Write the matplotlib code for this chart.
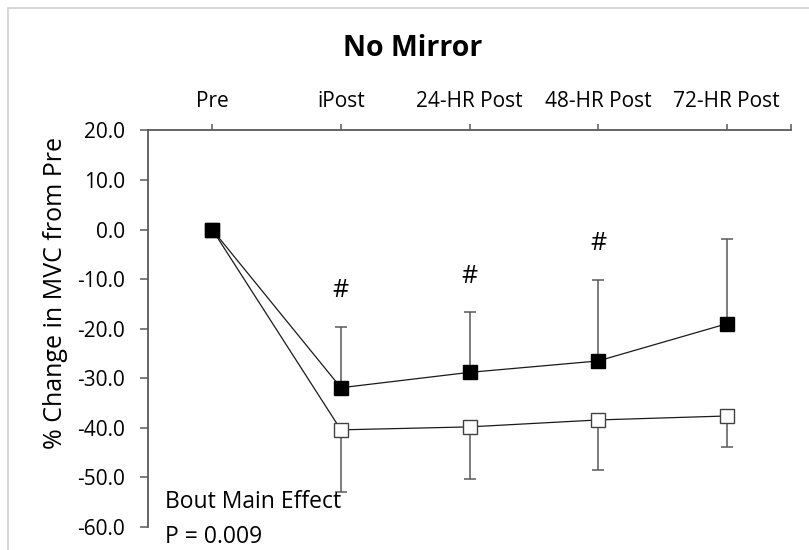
import matplotlib.pyplot as plt
from matplotlib.patches import Rectangle

plt.rcParams['font.family'] = ['Open Sans', 'DejaVu Sans']

timepoints = ['Pre', 'iPost', '24-HR Post', '48-HR Post', '72-HR Post']

# mean % change in MVC and SD for the two bouts
bout2_mean = [0.0, -31.9, -28.8, -26.5, -19.0]
bout2_sd = [0.0, 12.3, 12.1, 16.4, 17.1]
bout1_mean = [0.0, -40.4, -39.8, -38.4, -37.6]
bout1_sd = [0.0, 12.5, 10.5, 10.1, 6.3]

# timepoints flagged with #
flagged = [1, 2, 3]

W, H = 809, 550
fig = plt.figure(figsize=(W / 100, H / 100), dpi=100)
ax = fig.add_axes([148 / W, (H - 527) / H, (791 - 148) / W, (527 - 130.5) / H])

# light frame around the chart area
fig.patches.append(Rectangle((8 / W, -0.1), 1.2, (H - 8) / H + 0.1,
                             transform=fig.transFigure, fill=False,
                             edgecolor='#d0d0d0', linewidth=1.2))

x = list(range(len(timepoints)))
axis_col = '#595959'

ax.errorbar(x, bout1_mean, yerr=[bout1_sd, [0] * len(x)], fmt='none',
            ecolor=axis_col, elinewidth=1.1, capsize=4.3, capthick=1.1, zorder=2)
ax.errorbar(x, bout2_mean, yerr=[[0] * len(x), bout2_sd], fmt='none',
            ecolor=axis_col, elinewidth=1.1, capsize=4.3, capthick=1.1, zorder=2)

ax.plot(x, bout1_mean, color='#1a1a1a', linewidth=0.9, marker='s',
        markersize=9.5, markerfacecolor='white', markeredgecolor='#404040',
        markeredgewidth=1.0, zorder=3)
ax.plot(x, bout2_mean, color='#1a1a1a', linewidth=0.9, marker='s',
        markersize=9.5, markerfacecolor='black', markeredgecolor='black',
        markeredgewidth=1.0, zorder=4)

for i in flagged:
    ax.text(i, bout2_mean[i] + bout2_sd[i] + 7.3, '#', ha='center', va='center',
            fontsize=18)

ax.set_xlim(-0.5, 4.5)
ax.set_ylim(-60, 20)
ax.set_yticks(range(-60, 21, 10))
ax.set_yticklabels([f'{v:.1f}' for v in range(-60, 21, 10)])
ax.set_xticks(x)
ax.set_xticklabels(timepoints)
ax.set_xticks([4.5], minor=True)

ax.xaxis.tick_top()
for side in ['right', 'bottom']:
    ax.spines[side].set_visible(False)
for side in ['left', 'top']:
    ax.spines[side].set_color(axis_col)
    ax.spines[side].set_linewidth(1.3)

ax.tick_params(axis='x', which='both', direction='out', length=4.5, width=1.1,
               color=axis_col, labelsize=15, pad=8.5)
ax.tick_params(axis='y', direction='out', length=5.5, width=1.1,
               color=axis_col, labelsize=15, pad=11)

fig.text(55 / W, 1 - 293 / H, '% Change in MVC from Pre', rotation=90,
         ha='center', va='center', fontsize=18)
fig.text(412.7 / W, 1 - 48 / H, 'No Mirror', ha='center', va='center',
         fontsize=20.5, fontweight='bold')
fig.text(165 / W, 1 - 501.7 / H, 'Bout Main Effect', ha='left', va='center',
         fontsize=16.5)
fig.text(165 / W, 1 - 536.7 / H, 'P = 0.009', ha='left', va='center',
         fontsize=16.5)

fig.savefig('out.png', dpi=100)
